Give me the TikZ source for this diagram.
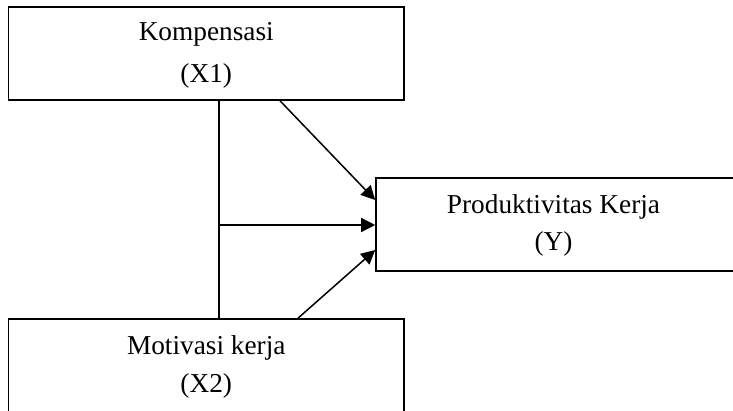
\documentclass[tikz,border=0pt]{standalone}
\usepackage{fontspec}
\setmainfont{Liberation Serif}
\usetikzlibrary{arrows.meta}
\begin{document}
\begin{tikzpicture}[x=1pt,y=-1pt,
  box/.style={draw,line width=1.6pt,rectangle,inner sep=0pt},
  lbl/.style={anchor=base,inner sep=0pt,font=\fontsize{27.3}{32}\selectfont},
  conn/.style={line width=1.5pt},
  arr/.style={conn,-{Triangle[length=14pt,width=14pt]}}]
\useasboundingbox (0,0) rectangle (733,411);
\clip (0,0) rectangle (733,411);
% boxes
\node[box,minimum width=395.5pt,minimum height=93pt] (X1) at (206.25,53.5) {};
\node[box,minimum width=380pt,minimum height=93pt] (Y) at (566,224.5) {};
\node[box,minimum width=395.5pt,minimum height=120pt] (X2) at (206.25,379) {};
% labels
\node[lbl] (tX1a) at (206.25,41) {Kompensasi};
\node[lbl] (tX1b) at (206.25,83) {(X1)};
\node[lbl] (tYa) at (553.5,214) {Produktivitas Kerja};
\node[lbl] (tYb) at (553.5,251) {(Y)};
\node[lbl] (tX2a) at (206.25,354) {Motivasi kerja};
\node[lbl] (tX2b) at (206.25,392) {(X2)};
% connectors
\coordinate (vx) at (219,225);
\coordinate (d1) at (280,0);
\coordinate (d2) at (298,0);
\coordinate (t1) at (0,200);
\coordinate (t3) at (0,250);
\draw[conn] (X1.south -| vx) -- (X2.north -| vx);
\draw[arr] (vx) -- (Y.west |- vx);
\draw[arr] (X1.south -| d1) -- (Y.west |- t1);
\draw[arr] (X2.north -| d2) -- (Y.west |- t3);
\end{tikzpicture}
\end{document}
